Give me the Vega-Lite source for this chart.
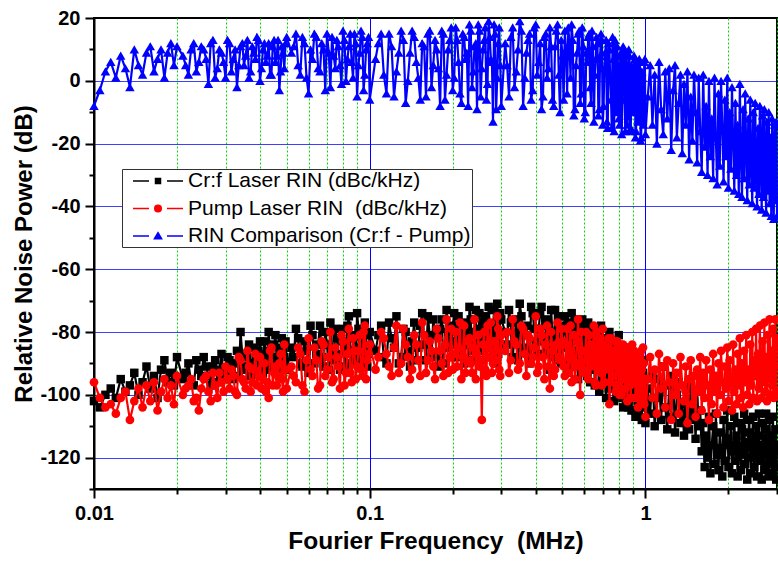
{
  "$schema": "https://vega.github.io/schema/vega-lite/v6.json",
  "width": 683,
  "height": 471,
  "autosize": {"type": "none"},
  "padding": {"left": 94, "top": 18, "right": 1, "bottom": 74},
  "background": "#ffffff",
  "config": {"view": {"stroke": "#000000", "strokeWidth": 2}, "font": "Liberation Sans"},
  "data": {"values": [
    {"f":0.0100,"k":-102,"p":-96,"d":-8},{"f":0.0105,"k":-104,"p":-101,"d":-3},{"f":0.0110,"k":-100,"p":-104,"d":3},{"f":0.0115,"k":-98,"p":-103,"d":6},{"f":0.0120,"k":-101,"p":-106,"d":1},{"f":0.0125,"k":-95,"p":-101,"d":8},{"f":0.0130,"k":-99,"p":-99,"d":4},{"f":0.0135,"k":-97,"p":-108,"d":-2},{"f":0.0140,"k":-93,"p":-102,"d":10},{"f":0.0145,"k":-100,"p":-98,"d":5},{"f":0.0150,"k":-96,"p":-104,"d":2},{"f":0.0155,"k":-91,"p":-97,"d":9},{"f":0.0160,"k":-98,"p":-102,"d":11},{"f":0.0165,"k":-94,"p":-96,"d":3},{"f":0.0170,"k":-101,"p":-105,"d":7},{"f":0.0175,"k":-92,"p":-99,"d":10},{"f":0.0180,"k":-89,"p":-95,"d":1},{"f":0.0185,"k":-96,"p":-101,"d":9},{"f":0.0190,"k":-93,"p":-97,"d":12},{"f":0.0195,"k":-97,"p":-103,"d":5},{"f":0.0200,"k":-88,"p":-94,"d":11},
    {"f":0.021,"k":-95,"p":-100,"d":8},{"f":0.022,"k":-90,"p":-97,"d":2},{"f":0.023,"k":-97,"p":-102,"d":12},{"f":0.024,"k":-92,"p":-105,"d":6},{"f":0.025,"k":-88,"p":-95,"d":10},{"f":0.026,"k":-94,"p":-99,"d":-1},{"f":0.027,"k":-91,"p":-93,"d":13},{"f":0.028,"k":-96,"p":-101,"d":4},{"f":0.029,"k":-87,"p":-96,"d":9},{"f":0.030,"k":-93,"p":-91,"d":1},{"f":0.031,"k":-89,"p":-98,"d":12},{"f":0.032,"k":-95,"p":-94,"d":7},{"f":0.033,"k":-86,"p":-100,"d":-2},{"f":0.034,"k":-80,"p":-89,"d":11},{"f":0.035,"k":-92,"p":-96,"d":5},{"f":0.036,"k":-88,"p":-86,"d":13},{"f":0.037,"k":-94,"p":-99,"d":3},{"f":0.038,"k":-85,"p":-92,"d":9},{"f":0.039,"k":-90,"p":-97,"d":14},{"f":0.040,"k":-83,"p":-88,"d":0},{"f":0.041,"k":-93,"p":-95,"d":10},{"f":0.042,"k":-87,"p":-99,"d":6},{"f":0.043,"k":-80,"p":-101,"d":12},{"f":0.044,"k":-91,"p":-85,"d":2},{"f":0.045,"k":-84,"p":-93,"d":13},{"f":0.046,"k":-89,"p":-97,"d":8},{"f":0.047,"k":-94,"p":-90,"d":-3},{"f":0.048,"k":-82,"p":-95,"d":11},{"f":0.049,"k":-88,"p":-84,"d":4},{"f":0.050,"k":-92,"p":-98,"d":14},
    {"f":0.052,"k":-85,"p":-91,"d":9},{"f":0.054,"k":-79,"p":-96,"d":15},{"f":0.056,"k":-90,"p":-87,"d":2},{"f":0.058,"k":-83,"p":-99,"d":12},{"f":0.060,"k":-93,"p":-82,"d":-4},{"f":0.062,"k":-81,"p":-94,"d":7},{"f":0.064,"k":-87,"p":-89,"d":14},{"f":0.066,"k":-78,"p":-97,"d":3},{"f":0.068,"k":-91,"p":-84,"d":10},{"f":0.070,"k":-84,"p":-92,"d":15},{"f":0.072,"k":-77,"p":-80,"d":-2},{"f":0.074,"k":-89,"p":-95,"d":8},{"f":0.076,"k":-82,"p":-88,"d":13},{"f":0.078,"k":-92,"p":-98,"d":5},{"f":0.080,"k":-79,"p":-83,"d":16},{"f":0.082,"k":-86,"p":-93,"d":0},{"f":0.084,"k":-75,"p":-79,"d":11},{"f":0.086,"k":-90,"p":-96,"d":6},{"f":0.088,"k":-81,"p":-86,"d":15},{"f":0.090,"k":-74,"p":-91,"d":-5},{"f":0.092,"k":-88,"p":-81,"d":9},{"f":0.094,"k":-83,"p":-94,"d":14},{"f":0.096,"k":-77,"p":-78,"d":2},{"f":0.098,"k":-91,"p":-89,"d":12},{"f":0.100,"k":-80,"p":-84,"d":-6},
    {"f":0.105,"k":-86,"p":-92,"d":7},{"f":0.110,"k":-78,"p":-80,"d":15},{"f":0.115,"k":-90,"p":-87,"d":-4},{"f":0.120,"k":-82,"p":-94,"d":11},{"f":0.125,"k":-75,"p":-78,"d":3},{"f":0.130,"k":-88,"p":-90,"d":16},{"f":0.135,"k":-80,"p":-84,"d":-7},{"f":0.140,"k":-91,"p":-95,"d":9},{"f":0.145,"k":-77,"p":-81,"d":14},{"f":0.150,"k":-85,"p":-89,"d":1},{"f":0.155,"k":-74,"p":-77,"d":12},{"f":0.160,"k":-89,"p":-93,"d":-5},{"f":0.165,"k":-81,"p":-83,"d":16},{"f":0.170,"k":-76,"p":-91,"d":5},{"f":0.175,"k":-87,"p":-79,"d":10},{"f":0.180,"k":-79,"p":-86,"d":-8},{"f":0.185,"k":-90,"p":-94,"d":15},{"f":0.190,"k":-73,"p":-76,"d":2},{"f":0.195,"k":-84,"p":-88,"d":13},{"f":0.200,"k":-78,"p":-92,"d":-3},{"f":0.205,"k":-88,"p":-80,"d":17},{"f":0.210,"k":-75,"p":-85,"d":6},{"f":0.215,"k":-83,"p":-95,"d":-7},{"f":0.220,"k":-90,"p":-78,"d":14},{"f":0.225,"k":-77,"p":-89,"d":9},{"f":0.230,"k":-72,"p":-82,"d":18},{"f":0.235,"k":-86,"p":-93,"d":-2},{"f":0.240,"k":-80,"p":-76,"d":11},{"f":0.245,"k":-89,"p":-87,"d":-9},{"f":0.250,"k":-74,"p":-91,"d":16},{"f":0.255,"k":-82,"p":-108,"d":4},{"f":0.260,"k":-77,"p":-80,"d":13},{"f":0.265,"k":-88,"p":-94,"d":-6},{"f":0.270,"k":-72,"p":-84,"d":19},{"f":0.275,"k":-85,"p":-77,"d":7},{"f":0.280,"k":-79,"p":-90,"d":-13},{"f":0.285,"k":-90,"p":-86,"d":15},{"f":0.290,"k":-71,"p":-75,"d":1},{"f":0.295,"k":-84,"p":-92,"d":17},{"f":0.300,"k":-76,"p":-81,"d":-8},
    {"f":0.31,"k":-80,"p":-86,"d":12},{"f":0.32,"k":-73,"p":-93,"d":-5},{"f":0.33,"k":-88,"p":-76,"d":17},{"f":0.34,"k":-76,"p":-84,"d":3},{"f":0.35,"k":-71,"p":-90,"d":19},{"f":0.36,"k":-85,"p":-79,"d":-8},{"f":0.37,"k":-78,"p":-94,"d":9},{"f":0.38,"k":-90,"p":-82,"d":15},{"f":0.39,"k":-74,"p":-88,"d":-3},{"f":0.40,"k":-83,"p":-75,"d":18},
    {"f":0.41,"k":-79,"p":-91,"d":6},{"f":0.42,"k":-72,"p":-81,"d":-9},{"f":0.43,"k":-87,"p":-95,"d":14},{"f":0.44,"k":-76,"p":-78,"d":1},{"f":0.45,"k":-92,"p":-98,"d":17},{"f":0.46,"k":-81,"p":-86,"d":-6},{"f":0.47,"k":-73,"p":-92,"d":11},{"f":0.48,"k":-89,"p":-77,"d":18},{"f":0.49,"k":-78,"p":-89,"d":-10},{"f":0.50,"k":-84,"p":-83,"d":8},
    {"f":0.51,"k":-75,"p":-94,"d":16},{"f":0.52,"k":-93,"p":-79,"d":-4},{"f":0.53,"k":-80,"p":-88,"d":12},{"f":0.54,"k":-74,"p":-96,"d":18},{"f":0.55,"k":-88,"p":-81,"d":-11},{"f":0.56,"k":-78,"p":-91,"d":5},{"f":0.57,"k":-95,"p":-76,"d":15},{"f":0.58,"k":-83,"p":-100,"d":-7},{"f":0.59,"k":-76,"p":-86,"d":17},{"f":0.60,"k":-90,"p":-93,"d":-12},
    {"f":0.61,"k":-81,"p":-80,"d":9},{"f":0.62,"k":-77,"p":-95,"d":14},{"f":0.63,"k":-96,"p":-84,"d":-2},{"f":0.64,"k":-85,"p":-90,"d":16},{"f":0.65,"k":-79,"p":-78,"d":-13},{"f":0.66,"k":-92,"p":-97,"d":7},{"f":0.67,"k":-83,"p":-87,"d":12},{"f":0.68,"k":-99,"p":-82,"d":-9},{"f":0.69,"k":-78,"p":-93,"d":15},{"f":0.70,"k":-88,"p":-79,"d":-14},
    {"f":0.71,"k":-82,"p":-96,"d":4},{"f":0.72,"k":-101,"p":-85,"d":13},{"f":0.73,"k":-86,"p":-91,"d":-15},{"f":0.74,"k":-80,"p":-103,"d":10},{"f":0.75,"k":-95,"p":-82,"d":-6},{"f":0.76,"k":-89,"p":-94,"d":14},{"f":0.77,"k":-102,"p":-87,"d":-16},{"f":0.78,"k":-84,"p":-99,"d":2},{"f":0.79,"k":-93,"p":-83,"d":11},{"f":0.80,"k":-81,"p":-92,"d":-12},
    {"f":0.81,"k":-98,"p":-86,"d":8},{"f":0.82,"k":-90,"p":-100,"d":-17},{"f":0.83,"k":-104,"p":-84,"d":11},{"f":0.84,"k":-86,"p":-95,"d":-3},{"f":0.85,"k":-96,"p":-89,"d":9},{"f":0.86,"k":-85,"p":-102,"d":-14},{"f":0.87,"k":-101,"p":-85,"d":10},{"f":0.88,"k":-92,"p":-97,"d":-16},{"f":0.89,"k":-105,"p":-88,"d":5},{"f":0.90,"k":-88,"p":-93,"d":-10},
    {"f":0.91,"k":-99,"p":-86,"d":8},{"f":0.92,"k":-107,"p":-101,"d":-18},{"f":0.93,"k":-91,"p":-90,"d":6},{"f":0.94,"k":-103,"p":-104,"d":-13},{"f":0.95,"k":-88,"p":-87,"d":7},{"f":0.96,"k":-96,"p":-98,"d":-19},{"f":0.97,"k":-108,"p":-92,"d":3},{"f":0.98,"k":-93,"p":-85,"d":-8},{"f":0.99,"k":-102,"p":-103,"d":6},{"f":1.00,"k":-109,"p":-107,"d":-17},
    {"f":1.02,"k":-98,"p":-95,"d":-5},{"f":1.04,"k":-106,"p":-88,"d":5},{"f":1.06,"k":-93,"p":-101,"d":-14},{"f":1.08,"k":-110,"p":-92,"d":2},{"f":1.10,"k":-101,"p":-106,"d":-20},{"f":1.12,"k":-95,"p":-87,"d":6},{"f":1.14,"k":-108,"p":-98,"d":-9},{"f":1.16,"k":-91,"p":-91,"d":-17},{"f":1.18,"k":-104,"p":-104,"d":3},{"f":1.20,"k":-111,"p":-89,"d":-12},
    {"f":1.22,"k":-97,"p":-96,"d":4},{"f":1.24,"k":-107,"p":-108,"d":-22},{"f":1.26,"k":-94,"p":-90,"d":-3},{"f":1.28,"k":-112,"p":-100,"d":5},{"f":1.30,"k":-100,"p":-93,"d":-18},{"f":1.32,"k":-96,"p":-106,"d":-7},{"f":1.34,"k":-109,"p":-88,"d":2},{"f":1.36,"k":-103,"p":-97,"d":-23},{"f":1.38,"k":-113,"p":-102,"d":-1},{"f":1.40,"k":-98,"p":-91,"d":-14},
    {"f":1.42,"k":-106,"p":-109,"d":3},{"f":1.44,"k":-111,"p":-95,"d":-25},{"f":1.46,"k":-97,"p":-89,"d":-5},{"f":1.48,"k":-108,"p":-103,"d":-19},{"f":1.50,"k":-102,"p":-94,"d":2},{"f":1.52,"k":-114,"p":-107,"d":-10},{"f":1.54,"k":-99,"p":-92,"d":-26},{"f":1.56,"k":-110,"p":-99,"d":1},{"f":1.58,"k":-105,"p":-88,"d":-16},{"f":1.60,"k":-118,"p":-105,"d":-29},
    {"f":1.62,"k":-109,"p":-93,"d":2},{"f":1.64,"k":-123,"p":-101,"d":-21},{"f":1.66,"k":-113,"p":-89,"d":-8},{"f":1.68,"k":-120,"p":-97,"d":-30},{"f":1.70,"k":-107,"p":-108,"d":0},{"f":1.72,"k":-125,"p":-92,"d":-24},{"f":1.74,"k":-116,"p":-103,"d":-12},{"f":1.76,"k":-110,"p":-87,"d":-31},{"f":1.78,"k":-122,"p":-99,"d":1},{"f":1.80,"k":-106,"p":-94,"d":-18},
    {"f":1.82,"k":-119,"p":-106,"d":-33},{"f":1.84,"k":-124,"p":-90,"d":-4},{"f":1.86,"k":-112,"p":-100,"d":-27},{"f":1.88,"k":-117,"p":-86,"d":0},{"f":1.90,"k":-126,"p":-96,"d":-15},{"f":1.92,"k":-108,"p":-104,"d":-32},{"f":1.94,"k":-121,"p":-91,"d":-6},{"f":1.96,"k":-114,"p":-98,"d":-24},{"f":1.98,"k":-105,"p":-85,"d":1},{"f":2.00,"k":-123,"p":-102,"d":-34},
    {"f":2.02,"k":-116,"p":-89,"d":-10},{"f":2.04,"k":-110,"p":-95,"d":-28},{"f":2.06,"k":-125,"p":-105,"d":-2},{"f":2.08,"k":-118,"p":-84,"d":-20},{"f":2.10,"k":-107,"p":-99,"d":-35},{"f":2.12,"k":-121,"p":-92,"d":-7},{"f":2.14,"k":-113,"p":-103,"d":-30},{"f":2.16,"k":-126,"p":-87,"d":-14},{"f":2.18,"k":-109,"p":-97,"d":-36},{"f":2.20,"k":-119,"p":-82,"d":-1},
    {"f":2.22,"k":-124,"p":-101,"d":-25},{"f":2.24,"k":-111,"p":-90,"d":-37},{"f":2.26,"k":-117,"p":-104,"d":-9},{"f":2.28,"k":-106,"p":-86,"d":-31},{"f":2.30,"k":-122,"p":-96,"d":-4},{"f":2.32,"k":-115,"p":-81,"d":-22},{"f":2.34,"k":-127,"p":-100,"d":-38},{"f":2.36,"k":-112,"p":-92,"d":-12},{"f":2.38,"k":-108,"p":-103,"d":-33},{"f":2.40,"k":-120,"p":-84,"d":-6},
    {"f":2.42,"k":-125,"p":-97,"d":-27},{"f":2.44,"k":-114,"p":-80,"d":-39},{"f":2.46,"k":-107,"p":-101,"d":-10},{"f":2.48,"k":-123,"p":-89,"d":-34},{"f":2.50,"k":-118,"p":-94,"d":-7},{"f":2.52,"k":-110,"p":-79,"d":-29},{"f":2.54,"k":-126,"p":-102,"d":-40},{"f":2.56,"k":-113,"p":-87,"d":-15},{"f":2.58,"k":-106,"p":-98,"d":-36},{"f":2.60,"k":-121,"p":-78,"d":-8},
    {"f":2.62,"k":-116,"p":-93,"d":-24},{"f":2.64,"k":-127,"p":-101,"d":-41},{"f":2.66,"k":-109,"p":-83,"d":-11},{"f":2.68,"k":-119,"p":-96,"d":-37},{"f":2.70,"k":-124,"p":-77,"d":-9},{"f":2.72,"k":-111,"p":-99,"d":-30},{"f":2.74,"k":-106,"p":-88,"d":-42},{"f":2.76,"k":-122,"p":-102,"d":-13},{"f":2.78,"k":-115,"p":-81,"d":-35},{"f":2.80,"k":-126,"p":-95,"d":-10},
    {"f":2.82,"k":-108,"p":-76,"d":-39},{"f":2.84,"k":-120,"p":-100,"d":-18},{"f":2.86,"k":-113,"p":-86,"d":-43},{"f":2.88,"k":-125,"p":-97,"d":-12},{"f":2.90,"k":-107,"p":-79,"d":-33},{"f":2.92,"k":-118,"p":-101,"d":-44},{"f":2.94,"k":-123,"p":-91,"d":-14},{"f":2.96,"k":-111,"p":-76,"d":-38},{"f":2.98,"k":-127,"p":-99,"d":-13},{"f":3.00,"k":-116,"p":-82,"d":-43},
    {"f":0.0215,"k":-93,"p":-98,"d":5},{"f":0.0225,"k":-96,"p":-95,"d":10},{"f":0.0235,"k":-89,"p":-101,"d":3},{"f":0.0245,"k":-94,"p":-98,"d":11},{"f":0.0255,"k":-91,"p":-94,"d":7},{"f":0.0265,"k":-97,"p":-102,"d":12},{"f":0.0275,"k":-89,"p":-97,"d":1},{"f":0.0285,"k":-92,"p":-93,"d":10},{"f":0.0295,"k":-95,"p":-99,"d":6},{"f":0.0305,"k":-88,"p":-95,"d":13},{"f":0.0315,"k":-93,"p":-92,"d":3},{"f":0.0325,"k":-90,"p":-99,"d":10},{"f":0.0335,"k":-94,"p":-88,"d":5},{"f":0.0345,"k":-87,"p":-95,"d":12},{"f":0.0355,"k":-91,"p":-98,"d":8},{"f":0.0365,"k":-84,"p":-91,"d":1},{"f":0.0375,"k":-90,"p":-96,"d":11},{"f":0.0385,"k":-93,"p":-87,"d":7},{"f":0.0395,"k":-86,"p":-94,"d":13},{"f":0.0405,"k":-89,"p":-98,"d":4},{"f":0.0415,"k":-83,"p":-90,"d":12},{"f":0.0425,"k":-92,"p":-96,"d":8},{"f":0.0435,"k":-86,"p":-86,"d":2},{"f":0.0445,"k":-88,"p":-97,"d":11},{"f":0.0455,"k":-81,"p":-91,"d":6},{"f":0.0465,"k":-91,"p":-94,"d":13},{"f":0.0475,"k":-85,"p":-87,"d":3},{"f":0.0485,"k":-90,"p":-99,"d":9},{"f":0.0495,"k":-83,"p":-92,"d":12},
    {"f":0.053,"k":-88,"p":-94,"d":11},{"f":0.055,"k":-82,"p":-85,"d":5},{"f":0.057,"k":-91,"p":-97,"d":14},{"f":0.059,"k":-86,"p":-89,"d":1},{"f":0.061,"k":-78,"p":-92,"d":10},{"f":0.063,"k":-90,"p":-85,"d":15},{"f":0.065,"k":-84,"p":-98,"d":4},{"f":0.067,"k":-88,"p":-83,"d":12},{"f":0.069,"k":-80,"p":-94,"d":-3},{"f":0.071,"k":-92,"p":-88,"d":9},{"f":0.073,"k":-85,"p":-96,"d":14},{"f":0.075,"k":-79,"p":-85,"d":4},{"f":0.077,"k":-87,"p":-91,"d":11},{"f":0.079,"k":-83,"p":-81,"d":-1},{"f":0.081,"k":-91,"p":-97,"d":13},{"f":0.083,"k":-78,"p":-87,"d":7},{"f":0.085,"k":-86,"p":-93,"d":15},{"f":0.087,"k":-82,"p":-82,"d":1},{"f":0.089,"k":-89,"p":-95,"d":12},{"f":0.091,"k":-79,"p":-86,"d":5},{"f":0.093,"k":-85,"p":-92,"d":16},{"f":0.095,"k":-90,"p":-80,"d":-3},{"f":0.097,"k":-81,"p":-95,"d":10},{"f":0.099,"k":-87,"p":-87,"d":14},
    {"f":0.1075,"k":-81,"p":-88,"d":12},{"f":0.1125,"k":-88,"p":-82,"d":2},{"f":0.1175,"k":-77,"p":-91,"d":15},{"f":0.1225,"k":-85,"p":-85,"d":-5},{"f":0.1275,"k":-90,"p":-93,"d":9},{"f":0.1325,"k":-79,"p":-79,"d":13},{"f":0.1375,"k":-86,"p":-88,"d":0},{"f":0.1425,"k":-83,"p":-92,"d":16},{"f":0.1475,"k":-89,"p":-84,"d":6},{"f":0.1525,"k":-78,"p":-94,"d":-6},{"f":0.1575,"k":-84,"p":-81,"d":11},{"f":0.1625,"k":-75,"p":-89,"d":15},{"f":0.1675,"k":-88,"p":-86,"d":-2},{"f":0.1725,"k":-81,"p":-95,"d":13},{"f":0.1775,"k":-91,"p":-82,"d":4},{"f":0.1825,"k":-76,"p":-90,"d":16},{"f":0.1875,"k":-85,"p":-84,"d":-6},{"f":0.1925,"k":-80,"p":-93,"d":10},{"f":0.1975,"k":-88,"p":-79,"d":17},{"f":0.2025,"k":-74,"p":-87,"d":1},{"f":0.2075,"k":-83,"p":-91,"d":13},{"f":0.2125,"k":-87,"p":-77,"d":-4},{"f":0.2175,"k":-78,"p":-88,"d":15},{"f":0.2225,"k":-84,"p":-93,"d":7},{"f":0.2275,"k":-89,"p":-83,"d":-8},{"f":0.2325,"k":-76,"p":-90,"d":16},{"f":0.2375,"k":-82,"p":-85,"d":3},{"f":0.2425,"k":-73,"p":-95,"d":12},{"f":0.2475,"k":-86,"p":-81,"d":18},{"f":0.2525,"k":-79,"p":-89,"d":-5},{"f":0.2575,"k":-89,"p":-84,"d":10},{"f":0.2625,"k":-75,"p":-92,"d":17},{"f":0.2675,"k":-83,"p":-78,"d":-1},{"f":0.2725,"k":-78,"p":-88,"d":14},{"f":0.2775,"k":-88,"p":-93,"d":6},{"f":0.2825,"k":-73,"p":-83,"d":18},{"f":0.2875,"k":-81,"p":-89,"d":-9},{"f":0.2925,"k":-87,"p":-79,"d":12},{"f":0.2975,"k":-74,"p":-94,"d":5},
    {"f":0.315,"k":-84,"p":-80,"d":5},{"f":0.325,"k":-77,"p":-89,"d":14},{"f":0.335,"k":-82,"p":-83,"d":-2},{"f":0.345,"k":-89,"p":-92,"d":10},{"f":0.355,"k":-75,"p":-78,"d":16},{"f":0.365,"k":-81,"p":-87,"d":1},{"f":0.375,"k":-86,"p":-81,"d":13},{"f":0.385,"k":-72,"p":-90,"d":-6},{"f":0.395,"k":-79,"p":-85,"d":17},{"f":0.405,"k":-87,"p":-93,"d":2},{"f":0.415,"k":-74,"p":-79,"d":12},{"f":0.425,"k":-83,"p":-88,"d":-5},{"f":0.435,"k":-78,"p":-84,"d":15},{"f":0.445,"k":-86,"p":-91,"d":4},{"f":0.455,"k":-73,"p":-80,"d":11},{"f":0.465,"k":-88,"p":-94,"d":-8},{"f":0.475,"k":-80,"p":-84,"d":16},{"f":0.485,"k":-75,"p":-88,"d":2},{"f":0.495,"k":-90,"p":-79,"d":13},{"f":0.505,"k":-79,"p":-91,"d":-6},{"f":0.515,"k":-85,"p":-84,"d":10},{"f":0.525,"k":-77,"p":-93,"d":17},{"f":0.535,"k":-91,"p":-78,"d":1},{"f":0.545,"k":-82,"p":-89,"d":13},{"f":0.555,"k":-76,"p":-95,"d":-9},{"f":0.565,"k":-86,"p":-83,"d":9},{"f":0.575,"k":-80,"p":-90,"d":16},{"f":0.585,"k":-92,"p":-80,"d":-4},{"f":0.595,"k":-78,"p":-92,"d":11},{"f":0.605,"k":-87,"p":-86,"d":-10},{"f":0.615,"k":-94,"p":-93,"d":6},{"f":0.625,"k":-80,"p":-81,"d":15},{"f":0.635,"k":-89,"p":-91,"d":-7},{"f":0.645,"k":-83,"p":-85,"d":11},{"f":0.655,"k":-97,"p":-96,"d":2},{"f":0.665,"k":-79,"p":-80,"d":14},{"f":0.675,"k":-90,"p":-92,"d":-11},{"f":0.685,"k":-85,"p":-86,"d":8},{"f":0.695,"k":-95,"p":-97,"d":13},{"f":0.705,"k":-84,"p":-84,"d":-8},{"f":0.715,"k":-91,"p":-92,"d":9},{"f":0.725,"k":-82,"p":-88,"d":-13},{"f":0.735,"k":-98,"p":-82,"d":12},{"f":0.745,"k":-88,"p":-96,"d":1},{"f":0.755,"k":-84,"p":-86,"d":-15},{"f":0.765,"k":-96,"p":-90,"d":7},{"f":0.775,"k":-91,"p":-83,"d":13},{"f":0.785,"k":-100,"p":-97,"d":-10},{"f":0.795,"k":-86,"p":-88,"d":5},{"f":0.805,"k":-94,"p":-100,"d":-14},{"f":0.815,"k":-88,"p":-84,"d":9},{"f":0.825,"k":-101,"p":-93,"d":-6},{"f":0.835,"k":-92,"p":-88,"d":10},{"f":0.845,"k":-99,"p":-98,"d":-16},{"f":0.855,"k":-89,"p":-86,"d":4},{"f":0.865,"k":-104,"p":-95,"d":-11},{"f":0.875,"k":-94,"p":-90,"d":8},{"f":0.885,"k":-87,"p":-101,"d":-15},{"f":0.895,"k":-100,"p":-84,"d":2},{"f":0.905,"k":-95,"p":-96,"d":-9},{"f":0.915,"k":-105,"p":-89,"d":7},{"f":0.925,"k":-90,"p":-94,"d":-16},{"f":0.935,"k":-98,"p":-87,"d":4},{"f":0.945,"k":-106,"p":-100,"d":-12},{"f":0.955,"k":-93,"p":-91,"d":6},{"f":0.965,"k":-101,"p":-86,"d":-18},{"f":0.975,"k":-97,"p":-102,"d":1},{"f":0.985,"k":-89,"p":-90,"d":-14},{"f":0.995,"k":-104,"p":-95,"d":7}
  ]},
  "transform": [{"fold": ["k", "p", "d"], "as": ["s", "v"]}],
  "encoding": {
    "x": {
      "field": "f", "type": "quantitative",
      "scale": {"type": "log", "domain": [0.01, 3], "nice": false},
      "axis": {
        "values": [0.01,0.02,0.03,0.04,0.05,0.06,0.07,0.08,0.09,0.1,0.2,0.3,0.4,0.5,0.6,0.7,0.8,0.9,1,2,3],
        "labelExpr": "datum.value == 0.01 || datum.value == 0.1 || datum.value == 1 ? '' + datum.value : ''",
        "labelFont": "Liberation Sans", "labelFontWeight": "bold", "labelFontSize": 20, "labelColor": "#000000",
        "labelPadding": 5, "labelOverlap": false, "labelFlush": false,
        "domainColor": "#000000", "domainWidth": 2,
        "tickColor": "#000000", "tickWidth": 2,
        "tickSize": {"condition": {"test": "datum.value == 0.01 || datum.value == 0.1 || datum.value == 1", "value": 9}, "value": 5},
        "grid": true, "gridWidth": 1,
        "gridColor": {"condition": {"test": "datum.value == 0.1 || datum.value == 1", "value": "#0000ff"}, "value": "#00dd00"},
        "gridDash": {"condition": {"test": "datum.value == 0.1 || datum.value == 1", "value": []}, "value": [2, 2]},
        "title": "Fourier Frequency\u00a0 (MHz)",
        "titleFont": "Liberation Sans", "titleFontWeight": "bold", "titleFontSize": 24.5, "titleColor": "#000000", "titlePadding": 6
      }
    },
    "y": {
      "field": "v", "type": "quantitative", "title": "Relative Noise Power (dB)",
      "scale": {"domain": [-130, 20], "nice": false, "zero": false},
      "axis": {
        "values": [-130,-120,-110,-100,-90,-80,-70,-60,-50,-40,-30,-20,-10,0,10,20],
        "labelExpr": "datum.value == -120 || datum.value == -100 || datum.value == -80 || datum.value == -60 || datum.value == -40 || datum.value == -20 || datum.value == 0 || datum.value == 20 ? '' + datum.value : ''",
        "labelFont": "Liberation Sans", "labelFontWeight": "bold", "labelFontSize": 20, "labelColor": "#000000",
        "labelPadding": 5, "labelOverlap": false, "labelFlush": false,
        "domainColor": "#000000", "domainWidth": 2,
        "tickColor": "#000000", "tickWidth": 2,
        "tickSize": {"condition": {"test": "datum.value == -120 || datum.value == -100 || datum.value == -80 || datum.value == -60 || datum.value == -40 || datum.value == -20 || datum.value == 0 || datum.value == 20", "value": 9}, "value": 5},
        "grid": true, "gridWidth": 1, "gridColor": "#0000ff",
        "gridOpacity": {"condition": {"test": "datum.value == -120 || datum.value == -100 || datum.value == -80 || datum.value == -60 || datum.value == -40 || datum.value == -20 || datum.value == 0", "value": 0.75}, "value": 0},
        "titleFont": "Liberation Sans", "titleFontWeight": "bold", "titleFontSize": 24, "titleColor": "#000000", "titlePadding": 3
      }
    },
    "color": {
      "field": "s", "type": "nominal",
      "scale": {"domain": ["k", "p", "d"], "range": ["#000000", "#ff0000", "#0000ff"]},
      "legend": {
        "orient": "none", "legendX": 28, "legendY": 151, "title": null,
        "labelExpr": "datum.value == 'k' ? 'Cr:f Laser RIN (dBc/kHz)' : datum.value == 'p' ? 'Pump Laser RIN\u00a0 (dBc/kHz)' : 'RIN Comparison (Cr:f - Pump)'",
        "labelFont": "Liberation Sans", "labelFontSize": 21, "labelColor": "#000000", "labelLimit": 500,
        "symbolSize": 400, "symbolStrokeWidth": 1.5, "symbolOffset": 24, "labelOffset": 19,
        "padding": 1, "rowPadding": 6.5, "strokeColor": "#333333", "fillColor": "#ffffff",
        "encode": {
          "symbols": {
            "update": {
              "shape": {"signal": "datum.value == 'k' ? 'M-2.5,0H-0.9M0.9,0H2.5M-0.25,-0.25H0.25V0.25H-0.25Z' : datum.value == 'p' ? 'M-2.5,0H-0.9M0.9,0H2.5M-0.33,0A0.33,0.33 0 1,0 0.33,0A0.33,0.33 0 1,0 -0.33,0Z' : 'M-2.5,0H-0.9M0.9,0H2.5M0,-0.33L0.36,0.28L-0.36,0.28Z'"},
              "fill": {"scale": "color", "field": "value"},
              "stroke": {"scale": "color", "field": "value"},
              "strokeWidth": {"value": 1.5},
              "opacity": {"value": 1}
            }
          }
        }
      }
    }
  },
  "layer": [
    {"transform": [{"filter": "datum.s == 'k'"}], "mark": {"type": "line", "strokeWidth": 2.2}},
    {"transform": [{"filter": "datum.s == 'k'"}], "mark": {"type": "point", "shape": "square", "filled": true, "size": 72, "opacity": 1}},
    {"transform": [{"filter": "datum.s == 'p'"}], "mark": {"type": "line", "strokeWidth": 2.2}},
    {"transform": [{"filter": "datum.s == 'p'"}], "mark": {"type": "point", "shape": "circle", "filled": true, "size": 76, "opacity": 1}},
    {"transform": [{"filter": "datum.s == 'd'"}], "mark": {"type": "line", "strokeWidth": 2.2}},
    {"transform": [{"filter": "datum.s == 'd'"}], "mark": {"type": "point", "shape": "triangle-up", "filled": true, "size": 90, "opacity": 1}}
  ]
}
